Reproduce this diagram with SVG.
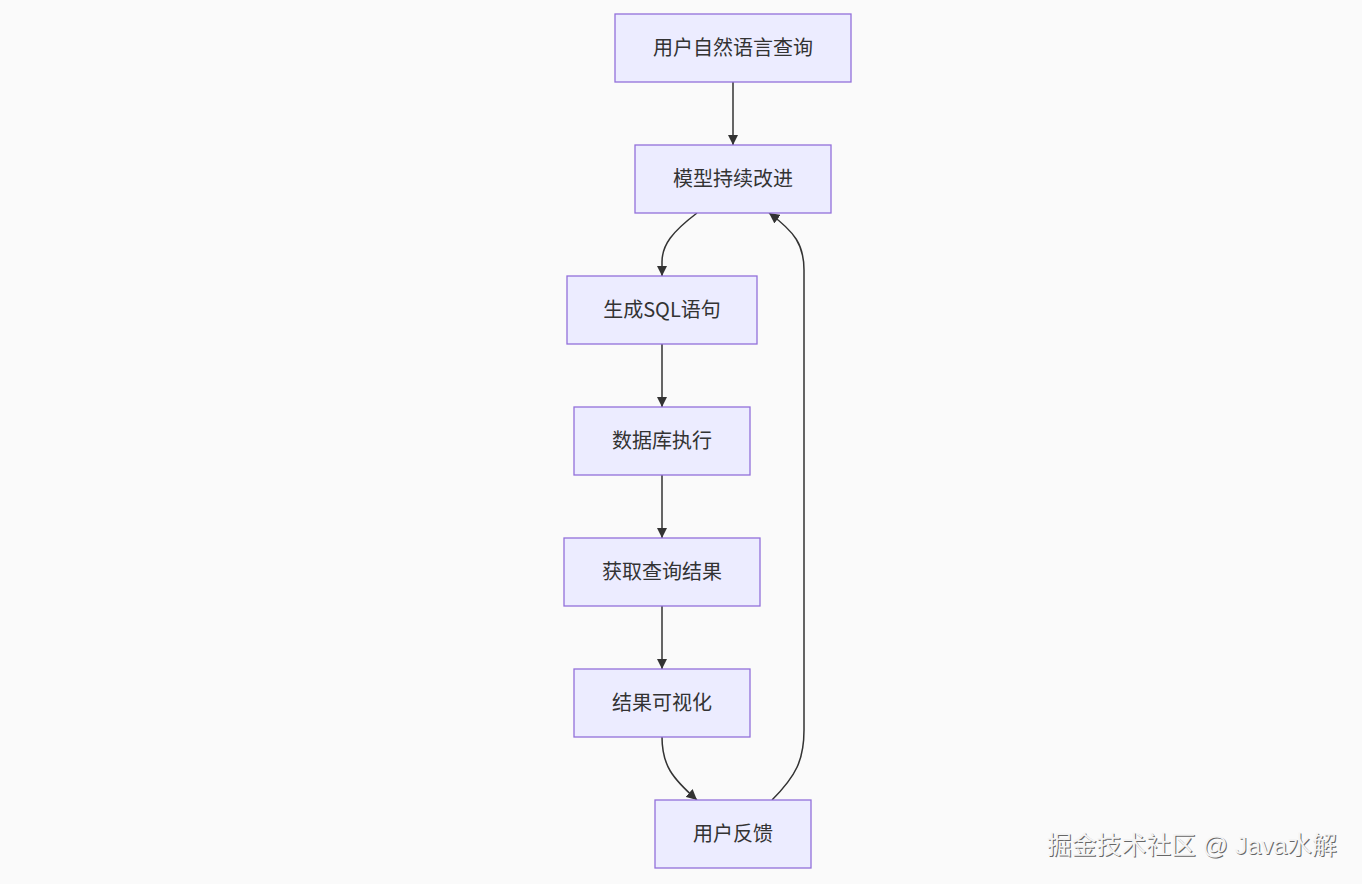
<svg xmlns="http://www.w3.org/2000/svg" width="1362" height="884" viewBox="0 0 1362 884">
<defs>
<style>
.node rect{fill:#ECECFF;stroke:#9370DB;stroke-width:1.3}
.node text{font-family:"Noto Sans CJK SC","Liberation Sans",sans-serif;font-size:20px;fill:#333;text-anchor:middle;dominant-baseline:central}
.edge{fill:none;stroke:#333;stroke-width:1.5;marker-end:url(#arrow)}
.wm{font-family:"Liberation Sans","Noto Sans CJK SC",sans-serif;font-size:24.8px}
</style>
<marker id="arrow" viewBox="0 0 10 10" refX="10" refY="5" markerWidth="7" markerHeight="7" markerUnits="strokeWidth" orient="auto">
<path d="M0,0 L10,5 L0,10 z" fill="#333"/>
</marker>
</defs>
<rect width="1362" height="884" fill="#fafafa"/>
<g id="connectors">
<path class="edge" d="M733,82 L733,145"/>
<path class="edge" d="M697,213 C672,232 662,245 662,262 L662,276"/>
<path class="edge" d="M662,344 L662,407"/>
<path class="edge" d="M662,475 L662,538"/>
<path class="edge" d="M662,606 L662,669"/>
<path class="edge" d="M662,737 C662,765 672,778 697,800"/>
<path class="edge" d="M772,800 C796,776 804,760 804,730 L804,270 C804,245 795,232 769,213"/>
</g>
<g id="n1" class="node"><rect x="615" y="14" width="236" height="68"/><text x="733" y="46.5">用户自然语言查询</text></g>
<g id="n2" class="node"><rect x="635" y="145" width="196" height="68"/><text x="733" y="177.5">模型持续改进</text></g>
<g id="n3" class="node"><rect x="567" y="276" width="190" height="68"/><text x="662" y="308.5">生成SQL语句</text></g>
<g id="n4" class="node"><rect x="574" y="407" width="176" height="68"/><text x="662" y="439.5">数据库执行</text></g>
<g id="n5" class="node"><rect x="564" y="538" width="196" height="68"/><text x="662" y="570.5">获取查询结果</text></g>
<g id="n6" class="node"><rect x="574" y="669" width="176" height="68"/><text x="662" y="701.5">结果可视化</text></g>
<g id="n7" class="node"><rect x="655" y="800" width="156" height="68"/><text x="733" y="832.5">用户反馈</text></g>
<g id="watermark">
<text class="wm" x="1048" y="855" fill="#666">掘金技术社区 @ Java水解</text>
<text class="wm" x="1047" y="854" fill="#f4f4f4">掘金技术社区 @ Java水解</text>
</g>
</svg>
